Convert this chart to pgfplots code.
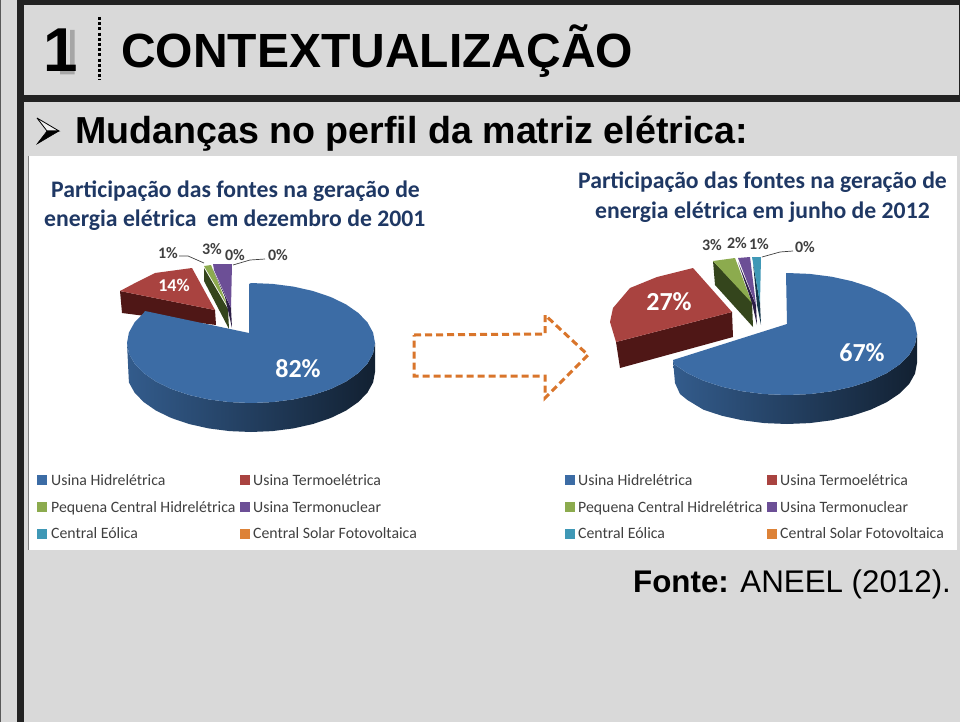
\documentclass[border=0pt]{standalone}
\usepackage{fontspec}
\setmainfont{Liberation Sans}
\newfontfamily\carl{Carlito}
\usepackage{pgfplots}
\pgfplotsset{compat=1.18}

\definecolor{bg}{HTML}{D9D9D9}
\definecolor{frame}{HTML}{222222}
\definecolor{navy}{HTML}{1F3864}
\definecolor{ltxt}{HTML}{404040}
\definecolor{blue1}{HTML}{3C6CA5}
\definecolor{red1}{HTML}{A94340}
\definecolor{red2}{HTML}{4F1716}
\definecolor{green1}{HTML}{8CAB4E}
\definecolor{green2}{HTML}{34451C}
\definecolor{purp1}{HTML}{6C4F96}
\definecolor{purp2}{HTML}{2B1D45}
\definecolor{teal1}{HTML}{3F98B6}
\definecolor{teal2}{HTML}{14364A}
\definecolor{orng}{HTML}{DD8237}
\definecolor{arrow}{HTML}{D9752B}

% text helpers, all sizes in px of the 960 wide page
\newcommand{\txt}[5]{\node[anchor=base west,inner sep=0pt,text=#4] at (axis cs:#1,#2) {\fontsize{#3}{#3}\selectfont #5};}
\newcommand{\pct}[5]{\node[anchor=base,inner sep=0pt,text=#4] at (axis cs:#1,#2) {\carl\bfseries\fontsize{#3}{#3}\selectfont #5};}

\begin{document}
\begin{tikzpicture}
\begin{axis}[
    width=960pt, height=722pt, scale only axis,
    xmin=0, xmax=960, ymin=0, ymax=722,
    y dir=reverse, hide axis, clip=true
]
% page and frame
\addplot[fill=bg,draw=none] coordinates {(0,0) (960,0) (960,722) (0,722)};
\addplot[fill=frame!70!bg,draw=none] coordinates {(0,0) (1,0) (1,722) (0,722)};
\addplot[fill=frame,draw=none] coordinates {(17,0) (24,0) (24,722) (17,722)};
\addplot[fill=frame,draw=none] coordinates {(17,0) (960,0) (960,5) (17,5)};
\addplot[fill=frame,draw=none] coordinates {(17,95) (960,95) (960,102) (17,102)};
\addplot[fill=frame,draw=none] coordinates {(959,5) (960,5) (960,95) (959,95)};
\addplot[fill=white,draw=none] coordinates {(28,156) (957,156) (957,550) (28,550)};
\addplot[draw=gray,line width=0.8pt] coordinates {(28,156) (28,550)};
\addplot[draw=black,line width=3pt,dash pattern=on 3pt off 2.2pt] coordinates {(99,17) (99,80)};
% shadow of the section number
\addplot[fill=gray!70,draw=none] coordinates {(70,30) (74.5,30) (74.5,74.5) (60,74.5) (60,70) (70,70)};

% bullet
\addplot[fill=white!60!bg,draw=black,line width=0.8pt] coordinates {(37,118) (59,131) (47,131) (37,118)};
\addplot[fill=black,draw=black,line width=0.5pt] coordinates {(59,131) (37,144) (47,131) (59,131)};

% left pie, side faces first
\addplot[fill=red2,draw=none] coordinates {(120,291) (215,310) (216,325) (122,313)};
\addplot[fill=red1,draw=none] coordinates {(120,291) (137,282) (155,273) (192,268) (215,310)};
\addplot[fill=green2,draw=none] coordinates {(204,268) (228,309) (229,329) (204,281)};
\addplot[fill=green1,draw=none] coordinates {(204,266) (211,265) (228,307)};
\addplot[fill=purp2,draw=none] coordinates {(213,270) (231,308) (232,328) (225,297)};
\addplot[fill=purp1,draw=none] coordinates {(213,264) (232,264) (231,308) (214,270)};
\addplot[left color=blue1!85!black,middle color=blue1!65!black,right color=blue1!30!black,draw=none] coordinates {
 (375,343) (373.1,353.4) (367.5,363.5) (358.4,373) (346,381.6) (330.7,389) (313,395) (293.4,399.4) (272.5,402.1) (251,403)
 (229.5,402.1) (208.6,399.4) (189,395) (171.3,389) (156,381.6) (143.6,373) (134.5,363.5) (128.9,353.4) (127,343)
 (128.9,382.4) (134.5,392.5) (143.6,402) (156,410.6) (171.3,418) (189,424) (208.6,428.4) (229.5,431.1) (251,432)
 (272.5,431.1) (293.4,428.4) (313,424) (330.7,418) (346,410.6) (358.4,402) (367.5,392.5) (373.1,382.4) (375,372)};
\addplot[fill=blue1,draw=none] coordinates {
 (249,284) (251,283) (272.5,283.9) (293.4,286.6) (313,291) (330.7,297) (346,304.4) (358.4,313) (367.5,322.5) (373.1,332.6) (375,343)
 (373.1,353.4) (367.5,363.5) (358.4,373) (346,381.6) (330.7,389) (313,395) (293.4,399.4) (272.5,402.1) (251,403)
 (229.5,402.1) (208.6,399.4) (189,395) (171.3,389) (156,381.6) (143.6,373) (134.5,363.5) (128.9,353.4) (127,343)
 (128.9,332.6) (134.5,322.5) (143.6,313) (145,311) (249,333)};
\addplot[draw=ltxt,line width=0.7pt] coordinates {(179,256) (188,256) (204,263)};
\addplot[draw=ltxt,line width=0.7pt] coordinates {(233,265) (250,260) (265,259)};

% right pie
\addplot[fill=red2,draw=none] coordinates {(616,342) (732,312) (733,337) (620,368)};
\addplot[fill=red1,draw=none] coordinates {(616,342) (610,322) (613,308) (630,288) (657,277) (693,268) (732,312)};
\addplot[fill=green2,draw=none] coordinates {(713,261) (752,302) (753,327) (715,285)};
\addplot[fill=green1,draw=none] coordinates {(713,261) (735,258) (752,303)};
\addplot[fill=purp2,draw=none] coordinates {(738,262) (756,305) (757,325) (752,303)};
\addplot[fill=purp1,draw=none] coordinates {(738,258) (750,257) (756,305)};
\addplot[fill=teal2,draw=none] coordinates {(753,263) (760,303) (761,325) (757,305)};
\addplot[fill=teal1,draw=none] coordinates {(752,257) (761,257) (760,303)};
\addplot[left color=blue1!85!black,middle color=blue1!65!black,right color=blue1!30!black,draw=none] coordinates {
 (917,334) (915,344.6) (909.2,354.9) (899.6,364.5) (886.6,373.2) (870.6,380.7) (852,386.8) (831.5,391.3) (809.6,394.1) (787,395)
 (764.4,394.1) (742.5,391.3) (722,386.8) (703.4,380.7) (687.4,373.2) (674.4,364.5) (673,360)
 (675,383) (680,394) (687.4,400) (703.4,409.7) (722,415.8) (742.5,420.3) (764.4,423.1) (787,424)
 (809.6,423.1) (831.5,420.3) (852,415.8) (870.6,409.7) (886.6,402.2) (899.6,393.5) (909.2,383.9) (915,373.6) (917,363)};
\addplot[fill=blue1,draw=none] coordinates {
 (786,273) (787,273) (809.6,273.9) (831.5,276.7) (852,281.2) (870.6,287.3) (886.6,294.8) (899.6,303.5) (909.2,313.1) (915,323.4) (917,334)
 (915,344.6) (909.2,354.9) (899.6,364.5) (886.6,373.2) (870.6,380.7) (852,386.8) (831.5,391.3) (809.6,394.1) (787,395)
 (764.4,394.1) (742.5,391.3) (722,386.8) (703.4,380.7) (687.4,373.2) (674.4,364.5) (673,360) (787,324)};
\addplot[draw=ltxt,line width=0.7pt] coordinates {(762,257) (780,252) (793,251)};

% dashed arrow
\addplot[draw=arrow,line width=3pt,dash pattern=on 7pt off 4pt] coordinates {
 (414,335) (545,334) (545,315) (588,355) (545,398) (545,376) (414,376) (414,335)};

% legend swatches
\addplot[fill=blue1,draw=none] coordinates {(37,475) (47,475) (47,485) (37,485)};
\addplot[fill=red1,draw=none] coordinates {(240,475) (250,475) (250,485) (240,485)};
\addplot[fill=green1,draw=none] coordinates {(37,502) (47,502) (47,512) (37,512)};
\addplot[fill=purp1,draw=none] coordinates {(240,502) (250,502) (250,512) (240,512)};
\addplot[fill=teal1,draw=none] coordinates {(37,529) (47,529) (47,539) (37,539)};
\addplot[fill=orng,draw=none] coordinates {(240,529) (250,529) (250,539) (240,539)};
\addplot[fill=blue1,draw=none] coordinates {(565,475) (575,475) (575,485) (565,485)};
\addplot[fill=red1,draw=none] coordinates {(767,475) (777,475) (777,485) (767,485)};
\addplot[fill=green1,draw=none] coordinates {(565,502) (575,502) (575,512) (565,512)};
\addplot[fill=purp1,draw=none] coordinates {(767,502) (777,502) (777,512) (767,512)};
\addplot[fill=teal1,draw=none] coordinates {(565,529) (575,529) (575,539) (565,539)};
\addplot[fill=orng,draw=none] coordinates {(767,529) (777,529) (777,539) (767,539)};

% header
\txt{43}{72}{62}{black}{\bfseries 1}
\txt{121}{68}{48}{black}{\bfseries CONTEXTUALIZAÇÃO}
\txt{75}{144}{37.6}{black}{\bfseries Mudanças no perfil da matriz elétrica:}
\txt{633}{592}{31.3}{black}{\bfseries Fonte: \mdseries ANEEL (2012).}

% chart titles
\txt{51}{197}{23.7}{navy}{\carl\bfseries Participação das fontes na geração de}
\txt{44}{226}{23.7}{navy}{\carl\bfseries energia elétrica\ \ em dezembro de 2001}
\txt{578}{189}{23.7}{navy}{\carl\bfseries Participação das fontes na geração de}
\txt{595}{218}{23.7}{navy}{\carl\bfseries energia elétrica em junho de 2012}

% data labels
\pct{298}{377}{26}{white}{82\%}
\pct{174}{291}{18}{white}{14\%}
\pct{168}{258}{16}{ltxt}{1\%}
\pct{212}{254}{16}{ltxt}{3\%}
\pct{235}{260}{16}{ltxt}{0\%}
\pct{278}{260}{16}{ltxt}{0\%}
\pct{862}{361}{26}{white}{67\%}
\pct{669}{310}{26}{white}{27\%}
\pct{712}{250}{16}{ltxt}{3\%}
\pct{737}{248}{16}{ltxt}{2\%}
\pct{759}{249}{16}{ltxt}{1\%}
\pct{805}{252}{16}{ltxt}{0\%}

% legend text
\txt{51}{485}{15.8}{ltxt}{\carl Usina Hidrelétrica}
\txt{253}{485}{15.8}{ltxt}{\carl Usina Termoelétrica}
\txt{51}{512}{15.8}{ltxt}{\carl Pequena Central Hidrelétrica}
\txt{253}{512}{15.8}{ltxt}{\carl Usina Termonuclear}
\txt{51}{538}{15.8}{ltxt}{\carl Central Eólica}
\txt{253}{538}{15.8}{ltxt}{\carl Central Solar Fotovoltaica}
\txt{578}{485}{15.8}{ltxt}{\carl Usina Hidrelétrica}
\txt{780}{485}{15.8}{ltxt}{\carl Usina Termoelétrica}
\txt{578}{512}{15.8}{ltxt}{\carl Pequena Central Hidrelétrica}
\txt{780}{512}{15.8}{ltxt}{\carl Usina Termonuclear}
\txt{578}{538}{15.8}{ltxt}{\carl Central Eólica}
\txt{780}{538}{15.8}{ltxt}{\carl Central Solar Fotovoltaica}
\end{axis}
\end{tikzpicture}
\end{document}
